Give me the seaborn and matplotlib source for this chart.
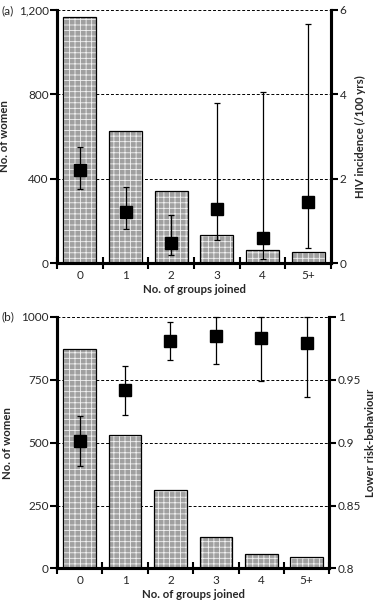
import numpy as np
import pandas as pd
import matplotlib
matplotlib.use("Agg")
import matplotlib.pyplot as plt
import seaborn as sns

groups = ["0", "1", "2", "3", "4", "5+"]

# panel (a)
women_a = [1165, 627, 343, 131, 62, 51]
hiv_inc = [2.20, 1.20, 0.48, 1.28, 0.59, 1.45]
hiv_lo = [1.75, 0.80, 0.20, 0.55, 0.09, 0.36]
hiv_hi = [2.74, 1.80, 1.15, 3.80, 4.06, 5.67]

# panel (b)
women_b = [871, 530, 310, 126, 57, 46]
low_risk = [0.901, 0.942, 0.981, 0.985, 0.983, 0.979]
risk_lo = [0.8815, 0.9216, 0.9653, 0.9623, 0.9488, 0.9359]
risk_hi = [0.9208, 0.961, 0.9957, 1.0, 1.0, 1.0]

sns.set_theme(style="white")
plt.rcParams["font.family"] = ["Lato", "DejaVu Sans"]
plt.rcParams["hatch.linewidth"] = 0.6

BAR_GREY = "#a0a0a0"
TICK_FS = 8.5
LABEL_FS = 8.2


def draw_panel(ax, women, pts, lo, hi, left_ticks, left_labels, right_lim,
               right_ticks, right_labels, right_title, right_pad):
    df = pd.DataFrame({"group": groups, "women": women})
    # textured fill first, then a plain black outline on top
    sns.barplot(data=df, x="group", y="women", ax=ax, color=BAR_GREY,
                edgecolor="#f2f2f2", hatch="+++", linewidth=0, width=0.72,
                saturation=1, zorder=2)
    sns.barplot(data=df, x="group", y="women", ax=ax, fill=False,
                color="black", linewidth=0.9, width=0.72, zorder=3)

    ax.set_xlim(-0.5, 5.5)
    ax.set_ylim(left_ticks[0], left_ticks[-1])
    ax.set_yticks(left_ticks)
    ax.set_yticklabels(left_labels)
    ax.set_axisbelow(True)
    ax.yaxis.grid(True, color="black", linestyle=(0, (3, 2)), linewidth=0.7)
    ax.xaxis.grid(False)

    ax.set_xticks(np.arange(-0.5, 6.0, 1.0), minor=True)
    ax.tick_params(axis="x", which="major", length=0, labelsize=TICK_FS, pad=5)
    ax.tick_params(axis="x", which="minor", direction="inout", length=8,
                   width=1.5, color="black", bottom=True)
    ax.tick_params(axis="y", which="major", left=True, direction="out",
                   length=5, width=1.5, color="black", labelsize=TICK_FS, pad=1)

    ax.set_xlabel("No. of groups joined", fontweight="bold", fontsize=LABEL_FS,
                  labelpad=2)
    ax.set_ylabel("No. of women", fontweight="bold", fontsize=LABEL_FS,
                  labelpad=6)

    for side in ["left", "bottom", "right"]:
        ax.spines[side].set_linewidth(2.2)
        ax.spines[side].set_color("black")
    ax.spines["top"].set_visible(False)

    ax2 = ax.twinx()
    xpos = np.arange(len(groups))
    yerr = [np.array(pts) - np.array(lo), np.array(hi) - np.array(pts)]
    ax2.errorbar(xpos, pts, yerr=yerr, fmt="s", color="black", ms=8.5,
                 ecolor="black", elinewidth=0.9, capsize=2.5, capthick=0.9,
                 zorder=5, clip_on=False)
    ax2.set_ylim(*right_lim)
    ax2.set_yticks(right_ticks)
    ax2.set_yticklabels(right_labels)
    ax2.tick_params(axis="y", right=True, direction="out", length=5, width=1.5,
                    color="black", labelsize=TICK_FS, pad=1)
    ax2.set_ylabel(right_title, fontweight="bold", fontsize=LABEL_FS,
                   labelpad=right_pad)
    ax2.grid(False)
    for side in ["left", "bottom", "right"]:
        ax2.spines[side].set_linewidth(2.2)
        ax2.spines[side].set_color("black")
    ax2.spines["top"].set_visible(False)
    return ax2


fig = plt.figure(figsize=(3.78, 6.06), dpi=100)

ax_a = fig.add_axes([0.151, 0.566, 0.725, 0.4175])
draw_panel(ax_a, women_a, hiv_inc, hiv_lo, hiv_hi,
           [0, 400, 800, 1200], ["0", "400", "800", "1,200"],
           (0, 6), [0, 2, 4, 6], ["0", "2", "4", "6"],
           "HIV incidence (/100 yrs)", 6)

ax_b = fig.add_axes([0.151, 0.062, 0.72, 0.4153])
draw_panel(ax_b, women_b, low_risk, risk_lo, risk_hi,
           [0, 250, 500, 750, 1000], ["0", "250", "500", "750", "1000"],
           (0.8, 1.0), [0.8, 0.85, 0.9, 0.95, 1.0],
           ["0.8", "0.85", "0.9", "0.95", "1"],
           "Lower risk-behaviour", 3)

fig.text(0.004, 0.983, "(a)", fontsize=TICK_FS, va="center", ha="left")
fig.text(0.004, 0.478, "(b)", fontsize=TICK_FS, va="center", ha="left")

fig.savefig("out.png", dpi=100)
